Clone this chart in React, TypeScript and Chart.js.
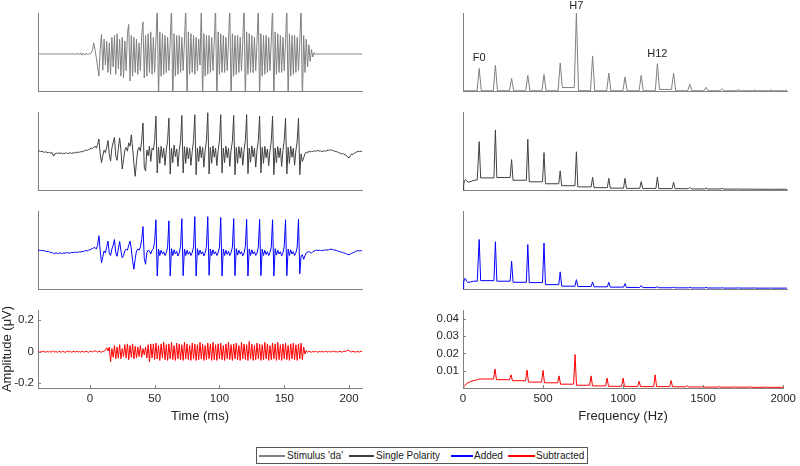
import React, { useEffect, useRef } from "react";
import { Chart, registerables } from "chart.js";

Chart.register(...registerables);

// ---------------- data ----------------
// Waveforms are sampled every waveStepMs starting at waveStartMs (-40 .. 210 ms)
const waveStartMs = -40;
const waveStepMs = 1;

const stimulusWave = [
  0, 0, 0, 0, 0, 0, 0, 0, 0, 0,
  0, 0, 0, 0, 0, 0, 0, 0, 0, 0,
  0, 0, 0, 0, 0, 0, 0, 0, 0, 0,
  0, 0.02, -0.02, 0.03, -0.03, 0.02, -0.03, 0.02, -0.01, 0,
  0, 0.02, 0.1, 0.3, 0.12, -0.1, -0.35, -0.6, 0.15, 0.53,
  -0.44, 0.4, -0.3, 0.35, -0.5, 0.3, -0.55, 0.45, -0.35, 0.5,
  -0.55, 0.55, -0.4, 0.4, -0.6, 0.45, -0.65, 0.35, -0.45, 0.55,
  0.8, -0.73, 0.5, -0.6, 0.45, -0.5, 0.4, -0.55, 0.3, -0.45,
  0.5, 0.87, -0.65, 0.5, -0.6, 0.55, -0.5, 0.6, -0.55, 0.45,
  -0.5, 0.35, 1.3, -1.3, 0.6, -0.6, 0.55, -0.55, 0.5, -0.5,
  0.45, -0.45, 0.35, 1.3, -1.3, 0.55, -0.6, 0.5, -0.55, 0.5,
  -0.5, 0.45, -0.45, 0.35, 1.3, -1.3, 0.6, -0.55, 0.55, -0.5,
  0.5, -0.55, 0.45, -0.45, 0.4, -0.3, 1.3, -1.3, 0.55, -0.6,
  0.5, -0.55, 0.5, -0.5, 0.45, -0.45, 0.35, 1.3, -1.3, 0.6,
  -0.55, 0.55, -0.5, 0.5, -0.5, 0.45, -0.45, 0.35, 1.3, -1.3,
  0.55, -0.6, 0.5, -0.55, 0.5, -0.5, 0.45, -0.45, 0.35, 1.3,
  -1.3, 0.6, -0.55, 0.55, -0.5, 0.5, -0.5, 0.45, -0.45, 0.35,
  1.3, -1.3, 0.55, -0.6, 0.5, -0.55, 0.5, -0.5, 0.45, -0.45,
  0.35, 1.3, -1.3, 0.6, -0.55, 0.55, -0.5, 0.5, -0.5, 0.45,
  -0.45, 0.35, 1.3, -1.3, 0.55, -0.6, 0.5, -0.55, 0.5, -0.5,
  0.45, -0.45, 0.35, 1.3, -1.3, 0.5, -0.5, 0.4, -0.35, 0.25,
  -0.2, 0.12, -0.08, 0.04, -0.02, 0, 0, 0, 0, 0,
  0, 0, 0, 0, 0, 0, 0, 0, 0, 0,
  0, 0, 0, 0, 0, 0, 0, 0, 0, 0,
  0, 0, 0, 0, 0, 0, 0, 0, 0, 0,
  0,
];

const singlePolarityWave = [
  0.02, 0.03, 0.01, 0.02, 0.0, -0.01, 0.01, -0.02, -0.01, -0.02,
  -0.03, -0.02, -0.11, -0.05, -0.03, -0.04, -0.02, -0.04, -0.03, -0.05,
  -0.03, -0.04, -0.02, -0.05, -0.03, -0.02, -0.04, -0.02, -0.03, -0.01,
  -0.02, 0.0, -0.01, 0.01, 0.0, 0.02, 0.03, 0.05, 0.04, 0.06,
  0.07, 0.1, 0.09, 0.12, 0.15, 0.1, 0.2, 0.34, -0.05, -0.28,
  -0.1, 0.05, -0.02, 0.12, 0.3, -0.05, -0.24, 0.1, 0.25, 0.38,
  -0.1, -0.22, 0.1, 0.37, 0.05, -0.45, -0.2, 0.05, 0.12, 0.02,
  0.24, 0.15, 0.45, 0.1, -0.3, -0.64, -0.25, 0.05, 0.12, 0.02,
  0.3, 0.76, -0.4, -0.5, 0.05, -0.1, 0.15, -0.25, 0.1, 0.05,
  0.3, 0.94, -0.55, 0.12, -0.3, 0.15, -0.15, 0.1, -0.35, 0.05,
  0.3, 0.89, -0.58, 0.1, -0.28, 0.18, -0.12, 0.08, -0.38, 0.05,
  0.28, 0.96, -0.55, 0.14, -0.3, 0.12, -0.18, 0.1, -0.35, 0.02,
  0.3, 0.98, -0.6, 0.1, -0.25, 0.15, -0.15, 0.12, -0.4, 0.05,
  0.3, 1.03, -0.58, 0.12, -0.3, 0.16, -0.14, 0.1, -0.36, 0.04,
  0.3, 0.98, -0.55, 0.1, -0.28, 0.15, -0.15, 0.1, -0.38, 0.05,
  0.28, 0.96, -0.6, 0.12, -0.3, 0.14, -0.16, 0.12, -0.35, 0.04,
  0.3, 0.98, -0.57, 0.1, -0.27, 0.16, -0.13, 0.1, -0.4, 0.05,
  0.3, 0.94, -0.55, 0.12, -0.3, 0.15, -0.15, 0.08, -0.36, 0.03,
  0.28, 0.94, -0.6, 0.1, -0.28, 0.14, -0.15, 0.1, -0.38, 0.05,
  0.3, 0.89, -0.58, 0.12, -0.3, 0.15, -0.14, 0.1, -0.35, 0.04,
  0.28, 0.89, -0.6, -0.05, -0.25, -0.15, -0.05, 0.0, -0.03, 0.02,
  0.0, 0.02, 0.01, 0.03, 0.02, 0.03, 0.04, 0.02, 0.03, 0.01,
  0.02, 0.03, 0.02, 0.04, 0.05, 0.04, 0.06, 0.04, 0.03, 0.02,
  0.01, 0.0, -0.02, -0.03, -0.05, -0.04, -0.06, -0.08, -0.1, -0.13,
  -0.16, -0.1, -0.05, -0.07, -0.03, -0.02, 0.0, 0.02, 0.01, 0.02,
  0.01,
];

const addedWave = [
  0.02, 0.02, 0.01, 0.02, 0.0, 0.01, -0.01, -0.02, -0.01, -0.03,
  -0.05, -0.04, -0.07, -0.06, -0.05, -0.07, -0.06, -0.05, -0.07, -0.06,
  -0.05, -0.06, -0.05, -0.04, -0.06, -0.05, -0.04, -0.05, -0.03, -0.04,
  -0.03, -0.04, -0.02, -0.03, -0.01, -0.02, 0.0, 0.01, 0.0, 0.02,
  0.03, 0.05, 0.06, 0.08, 0.09, 0.05, 0.15, 0.4, 0.0, -0.31,
  -0.15, 0.0, -0.05, 0.1, 0.26, -0.05, -0.12, 0.05, 0.15, 0.3,
  -0.05, -0.14, 0.05, 0.25, 0.0, -0.18, -0.12, 0.0, 0.05, 0.02,
  0.15, 0.26, 0.05, -0.25, -0.48, -0.2, 0.0, 0.05, 0.02, 0.1,
  0.3, 0.64, -0.2, -0.35, -0.05, 0.02, 0.0, -0.08, 0.02, 0.05,
  0.25, 0.82, -0.66, 0.05, -0.12, 0.02, -0.08, -0.02, -0.12, -0.05,
  0.1, 0.79, -0.66, 0.06, -0.12, 0.03, -0.08, -0.01, -0.13, -0.05,
  0.12, 0.85, -0.65, 0.05, -0.12, 0.02, -0.09, -0.02, -0.12, -0.04,
  0.1, 0.9, -0.66, 0.06, -0.11, 0.02, -0.08, -0.02, -0.13, -0.05,
  0.12, 0.9, -0.64, 0.05, -0.12, 0.03, -0.08, -0.02, -0.12, -0.05,
  0.1, 0.88, -0.66, 0.05, -0.12, 0.02, -0.09, -0.01, -0.12, -0.04,
  0.1, 0.85, -0.65, 0.06, -0.11, 0.02, -0.08, -0.02, -0.13, -0.05,
  0.12, 0.83, -0.66, 0.05, -0.12, 0.03, -0.08, -0.02, -0.12, -0.05,
  0.1, 0.83, -0.65, 0.05, -0.12, 0.02, -0.09, -0.02, -0.12, -0.04,
  0.1, 0.82, -0.66, 0.06, -0.11, 0.02, -0.08, -0.02, -0.13, -0.05,
  0.12, 0.82, -0.65, 0.05, -0.12, 0.03, -0.08, -0.02, -0.12, -0.05,
  0.1, 0.83, -0.6, -0.13, -0.1, -0.22, -0.12, -0.05, -0.03, -0.02,
  -0.04, -0.06, -0.02, 0.0, 0.01, 0.02, 0.01, 0.02, 0.01, 0.02,
  0.01, 0.02, 0.03, 0.02, 0.03, 0.04, 0.05, 0.04, 0.03, 0.02,
  0.02, 0.0, -0.01, -0.02, -0.03, -0.04, -0.05, -0.06, -0.08, -0.09,
  -0.1, -0.08, -0.06, -0.05, -0.03, -0.01, 0.0, 0.01, 0.0, 0.01,
  0.0,
];

const subtractedWave = [
  0.002, -0.003, 0.003, -0.002, 0.004, 0.0, -0.003, 0.002, -0.002, 0.003,
  -0.003, 0.002, 0.005, -0.002, 0.001, -0.004, 0.002, 0.0, -0.003, 0.003,
  0.0, -0.004, 0.002, 0.004, -0.002, 0.003, -0.003, 0.001, 0.003, -0.002,
  0.004, -0.002, 0.001, -0.003, 0.003, 0.0, -0.002, 0.003, 0.0, -0.004,
  0.002, 0.004, -0.002, 0.003, 0.006, 0.002, -0.003, 0.004, 0.0, -0.003,
  0.002, 0.005, 0.01, 0.025, 0.005, 0.03, -0.063, 0.02, -0.035, 0.04,
  -0.045, 0.03, -0.04, 0.045, -0.045, 0.02, -0.03, 0.045, -0.04, 0.05,
  -0.05, 0.04, -0.035, 0.05, -0.045, 0.035, -0.04, 0.03, -0.03, 0.04,
  -0.035, 0.02, -0.02, 0.03, -0.04, 0.045, -0.065, 0.05, -0.04, 0.05,
  -0.05, 0.055, -0.045, 0.04, -0.055, 0.05, -0.04, 0.06, -0.05, 0.045,
  -0.055, 0.05, -0.045, 0.06, -0.05, 0.04, -0.055, 0.055, -0.045, 0.05,
  -0.05, 0.045, -0.055, 0.06, -0.045, 0.05, -0.05, 0.04, -0.055, 0.055,
  -0.045, 0.05, -0.055, 0.045, -0.05, 0.06, -0.045, 0.05, -0.055, 0.04,
  -0.05, 0.055, -0.045, 0.05, -0.055, 0.06, -0.05, 0.045, -0.055, 0.05,
  -0.045, 0.055, -0.05, 0.04, -0.055, 0.05, -0.045, 0.06, -0.05, 0.045,
  -0.055, 0.05, -0.045, 0.055, -0.05, 0.04, -0.055, 0.06, -0.045, 0.05,
  -0.05, 0.045, -0.055, 0.065, -0.045, 0.05, -0.055, 0.04, -0.05, 0.055,
  -0.045, 0.05, -0.055, 0.045, -0.05, 0.06, -0.045, 0.05, -0.055, 0.04,
  -0.05, 0.055, -0.045, 0.05, -0.055, 0.06, -0.05, 0.045, -0.055, 0.05,
  -0.045, 0.055, -0.05, 0.04, -0.055, 0.05, -0.045, 0.055, -0.05, 0.045,
  -0.055, 0.05, -0.045, 0.055, -0.05, 0.03, -0.015, 0.008, -0.004, 0.003,
  0.0, -0.003, 0.002, -0.002, 0.003, 0.0, -0.003, 0.002, -0.001, 0.003,
  -0.002, 0.001, 0.004, -0.002, 0.0, 0.003, -0.003, 0.002, 0.004, -0.001,
  0.002, -0.003, 0.001, 0.003, -0.002, 0.0, 0.004, 0.002, 0.006, 0.01,
  0.006, 0.002, -0.002, 0.003, 0.0, -0.003, 0.002, 0.0, -0.002, 0.003,
  0.001,
];

// Spectra: harmonic peaks (Hz) with the peak amplitude and the floor level right after each peak
const harmonicHz = [100, 200, 300, 400, 500, 600, 700, 800, 900, 1000, 1100, 1200, 1300, 1400, 1500, 1600, 1700, 1800, 1900, 2000];

const stimulusLowHz = [0, 80];
const stimulusLowAmp = [0.003, 0.003];
const stimulusPeaks = [0.29, 0.33, 0.16, 0.2, 0.21, 0.36, 1.0, 0.45, 0.23, 0.18, 0.2, 0.35, 0.23, 0.086, 0.047, 0.03, 0.017, 0.013, 0.013, 0.01];
const stimulusFloor = [0.003, 0.003, 0.003, 0.003, 0.003, 0.045, 0.004, 0.003, 0.003, 0.003, 0.003, 0.02, 0.003, 0.003, 0.003, 0.003, 0.003, 0.003, 0.003, 0.003];

const singleLowHz = [0, 4, 9, 16, 24, 34, 50, 70, 88];
const singleLowAmp = [0, 0.06, 0.12, 0.135, 0.11, 0.1, 0.11, 0.125, 0.13];
const singlePeaks = [0.62, 0.77, 0.39, 0.65, 0.48, 0.245, 0.49, 0.163, 0.15, 0.15, 0.107, 0.167, 0.099, 0.034, 0.025, 0.021, 0.013, 0.01, 0.009, 0.008];
const singleFloor = [0.155, 0.16, 0.125, 0.105, 0.08, 0.055, 0.04, 0.03, 0.024, 0.021, 0.02, 0.018, 0.017, 0.014, 0.013, 0.012, 0.011, 0.01, 0.01, 0.01];

const addedLowHz = [0, 4, 9, 15, 22, 30, 45, 65, 88];
const addedLowAmp = [0, 0.08, 0.13, 0.135, 0.1, 0.085, 0.09, 0.1, 0.1];
const addedPeaks = [0.635, 0.605, 0.356, 0.57, 0.59, 0.22, 0.12, 0.09, 0.086, 0.069, 0.043, 0.03, 0.024, 0.022, 0.021, 0.016, 0.015, 0.014, 0.013, 0.012];
const addedFloor = [0.107, 0.1, 0.086, 0.082, 0.056, 0.036, 0.032, 0.028, 0.024, 0.02, 0.018, 0.016, 0.015, 0.014, 0.013, 0.012, 0.012, 0.011, 0.011, 0.011];

const subtractedLowHz = [0, 5, 12, 25, 40, 60, 80, 90];
const subtractedLowAmp = [0, 0.0008, 0.0016, 0.0026, 0.0034, 0.0041, 0.0046, 0.0047];
const subtractedPeaks = [0.0052, 0.011, 0.0076, 0.0104, 0.0102, 0.007, 0.0193, 0.007, 0.0057, 0.0057, 0.0039, 0.0076, 0.0043, 0.0014, 0.0009, 0.0008, 0.0006, 0.0006, 0.0006, 0.0005];
const subtractedFloor = [0.0052, 0.0048, 0.0042, 0.0034, 0.003, 0.0022, 0.0016, 0.0012, 0.001, 0.0009, 0.0008, 0.0008, 0.0007, 0.0006, 0.0005, 0.0005, 0.0005, 0.0004, 0.0004, 0.0004];

// Tick labels
const timeTicks = [0, 50, 100, 150, 200];
const amplitudeTicks = [-0.2, 0, 0.2];
const freqTicks = [0, 500, 1000, 1500, 2000];
const spectrumTicks = [0.01, 0.02, 0.03, 0.04];

// Annotated harmonics on the stimulus spectrum
const peakLabelText = ["F0", "H7", "H12"];
const peakLabelHz = [100, 700, 1200];

// Series names
const seriesNames = ["Stimulus 'da'", "Single Polarity", "Added", "Subtracted"];

// ---------------- styling ----------------
const FONT = "'Liberation Sans', Arial, Helvetica, sans-serif";
const TEXT = "#262626";
const AXIS = "#808080";
const COLORS = ["#808080", "#404040", "#0000ff", "#ff0000"];

const W = 800;
const H = 466;
const COLS = [
  { l: 38, r: 362 },
  { l: 463, r: 787 },
];
const ROWS = [
  { t: 13, b: 91 },
  { t: 112, b: 190 },
  { t: 211, b: 289 },
  { t: 310, b: 388 },
];

type Pt = { x: number; y: number };

function wavePoints(values: number[]): Pt[] {
  return values.map((y, i) => ({ x: waveStartMs + i * waveStepMs, y }));
}

function spectrumPoints(lowHz: number[], lowAmp: number[], peaks: number[], floor: number[], halfWidth: number): Pt[] {
  const pts: Pt[] = lowHz.map((x, i) => ({ x, y: lowAmp[i] }));
  let prev = lowAmp[lowAmp.length - 1];
  harmonicHz.forEach((f, i) => {
    pts.push({ x: f - halfWidth, y: prev });
    pts.push({ x: f, y: peaks[i] });
    pts.push({ x: f + halfWidth, y: floor[i] });
    prev = floor[i];
  });
  return pts;
}

const inwardTicks = {
  id: "inwardTicks",
  afterDraw(chart: any, _args: any, opts: any) {
    if (!opts || !opts.show) return;
    const { ctx, chartArea, scales } = chart;
    ctx.save();
    ctx.strokeStyle = AXIS;
    ctx.lineWidth = 1;
    for (const t of scales.x.ticks) {
      const px = Math.round(scales.x.getPixelForValue(t.value)) + 0.5;
      ctx.beginPath();
      ctx.moveTo(px, chartArea.bottom);
      ctx.lineTo(px, chartArea.bottom - 3);
      ctx.stroke();
    }
    for (const t of scales.y.ticks) {
      const py = Math.round(scales.y.getPixelForValue(t.value)) + 0.5;
      ctx.beginPath();
      ctx.moveTo(chartArea.left, py);
      ctx.lineTo(chartArea.left + 3, py);
      ctx.stroke();
    }
    ctx.restore();
  },
};

const peakLabels = {
  id: "peakLabels",
  afterDraw(chart: any, _args: any, opts: any) {
    if (!opts || !opts.texts) return;
    const { ctx, scales } = chart;
    ctx.save();
    ctx.fillStyle = TEXT;
    ctx.font = `11px ${FONT}`;
    ctx.textAlign = "center";
    ctx.textBaseline = "middle";
    opts.texts.forEach((txt: string, i: number) => {
      const x = scales.x.getPixelForValue(opts.hz[i]);
      const y = Math.max(scales.y.getPixelForValue(opts.amp[i]) - 10, 6);
      ctx.fillText(txt, x, y);
    });
    ctx.restore();
  },
};

type Panel = {
  col: number;
  row: number;
  points: Pt[];
  color: string;
  xMin: number;
  xMax: number;
  yMin: number;
  yMax: number;
  xTicks?: number[];
  yTicks?: number[];
  xTitle?: string;
  yTitle?: string;
  yAxisWidth?: number;
  labels?: { texts: string[]; hz: number[]; amp: number[] };
};

const panels: Panel[] = [
  { col: 0, row: 0, points: wavePoints(stimulusWave), color: COLORS[0], xMin: -40, xMax: 210, yMin: -1, yMax: 1.108 },
  { col: 0, row: 1, points: wavePoints(singlePolarityWave), color: COLORS[1], xMin: -40, xMax: 210, yMin: -1, yMax: 1.05 },
  { col: 0, row: 2, points: wavePoints(addedWave), color: COLORS[2], xMin: -40, xMax: 210, yMin: -1, yMax: 1.05 },
  {
    col: 0, row: 3, points: wavePoints(subtractedWave), color: COLORS[3], xMin: -40, xMax: 210, yMin: -0.23, yMax: 0.265,
    xTicks: timeTicks, yTicks: amplitudeTicks, xTitle: "Time (ms)", yTitle: "Amplitude (μV)", yAxisWidth: 38,
  },
  {
    col: 1, row: 0, points: spectrumPoints(stimulusLowHz, stimulusLowAmp, stimulusPeaks, stimulusFloor, 13), color: COLORS[0],
    xMin: 0, xMax: 2000, yMin: 0, yMax: 1,
    labels: { texts: peakLabelText, hz: peakLabelHz, amp: peakLabelHz.map((f) => stimulusPeaks[harmonicHz.indexOf(f)]) },
  },
  { col: 1, row: 1, points: spectrumPoints(singleLowHz, singleLowAmp, singlePeaks, singleFloor, 9), color: COLORS[1], xMin: 0, xMax: 2000, yMin: 0, yMax: 1 },
  { col: 1, row: 2, points: spectrumPoints(addedLowHz, addedLowAmp, addedPeaks, addedFloor, 9), color: COLORS[2], xMin: 0, xMax: 2000, yMin: 0, yMax: 1 },
  {
    col: 1, row: 3, points: spectrumPoints(subtractedLowHz, subtractedLowAmp, subtractedPeaks, subtractedFloor, 9), color: COLORS[3],
    xMin: 0, xMax: 2000, yMin: 0, yMax: 0.045,
    xTicks: freqTicks, yTicks: spectrumTicks, xTitle: "Frequency (Hz)", yAxisWidth: 40,
  },
];

function buildConfig(p: Panel): any {
  const c = COLS[p.col];
  const r = ROWS[p.row];
  const hasTicks = !!p.xTicks;
  const xH = hasTicks ? 36 : 0;
  const yW = p.yAxisWidth || 0;
  const tickFont = { family: FONT, size: 11.5 };
  const titleFont = { family: FONT, size: 13, lineHeight: 1.2 };
  return {
    type: "line",
    data: {
      datasets: [
        {
          data: p.points,
          borderColor: p.color,
          borderWidth: 1,
          pointRadius: 0,
          tension: 0,
          fill: false,
        },
      ],
    },
    options: {
      responsive: false,
      animation: false,
      events: [],
      parsing: false,
      layout: {
        autoPadding: false,
        padding: { left: c.l - yW, top: r.t, right: W - c.r, bottom: H - r.b - xH },
      },
      plugins: {
        legend: { display: false },
        tooltip: { enabled: false },
        inwardTicks: { show: hasTicks },
        peakLabels: p.labels || {},
      },
      scales: {
        x: {
          type: "linear",
          position: "bottom",
          min: p.xMin,
          max: p.xMax,
          grid: { display: false, drawTicks: false },
          border: { display: true, color: AXIS, width: 1 },
          ticks: {
            display: hasTicks,
            font: tickFont,
            color: TEXT,
            padding: 4,
            maxRotation: 0,
            autoSkip: false,
            callback: (v: any) => String(v),
          },
          afterBuildTicks: hasTicks ? (s: any) => { s.ticks = p.xTicks!.map((v) => ({ value: v })); } : undefined,
          afterFit: (s: any) => { s.height = xH; },
          title: { display: !!p.xTitle, text: p.xTitle || "", font: titleFont, color: TEXT, padding: 0 },
        },
        y: {
          type: "linear",
          position: "left",
          min: p.yMin,
          max: p.yMax,
          grid: { display: false, drawTicks: false },
          border: { display: true, color: AXIS, width: 1 },
          ticks: {
            display: hasTicks,
            font: tickFont,
            color: TEXT,
            padding: 4,
            autoSkip: false,
            callback: (v: any) => String(v),
          },
          afterBuildTicks: hasTicks ? (s: any) => { s.ticks = p.yTicks!.map((v) => ({ value: v })); } : undefined,
          afterFit: (s: any) => { s.width = yW; },
          title: { display: !!p.yTitle, text: p.yTitle || "", font: titleFont, color: TEXT, padding: 0 },
        },
      },
    },
    plugins: [inwardTicks, peakLabels],
  };
}

// Legend layout (page pixels)
const legendBox = { left: 256, top: 447, width: 332, height: 17 };
const legendItems = [
  { lineLeft: 259, lineWidth: 26, textLeft: 287 },
  { lineLeft: 349, lineWidth: 25, textLeft: 376 },
  { lineLeft: 451, lineWidth: 22, textLeft: 474 },
  { lineLeft: 508, lineWidth: 27, textLeft: 536 },
];

export default function App() {
  const refs = useRef<(HTMLCanvasElement | null)[]>([]);

  useEffect(() => {
    const charts = panels.map((p, i) => new Chart(refs.current[i] as HTMLCanvasElement, buildConfig(p)));
    return () => charts.forEach((ch) => ch.destroy());
  }, []);

  return (
    <div style={{ position: "absolute", left: 0, top: 0, width: W, height: H, background: "#fff", overflow: "hidden" }}>
      {panels.map((_, i) => (
        <canvas
          key={i}
          ref={(el) => { refs.current[i] = el; }}
          width={W}
          height={H}
          style={{ position: "absolute", left: 0, top: 0, width: W, height: H }}
        />
      ))}
      <div
        style={{
          position: "absolute",
          left: legendBox.left,
          top: legendBox.top,
          width: legendBox.width,
          height: legendBox.height,
          border: "1px solid #555",
          boxSizing: "border-box",
          background: "#fff",
        }}
      />
      {legendItems.map((it, i) => (
        <React.Fragment key={i}>
          <div
            style={{
              position: "absolute",
              left: it.lineLeft,
              top: legendBox.top + legendBox.height / 2 - 1,
              width: it.lineWidth,
              height: 2,
              background: COLORS[i],
            }}
          />
          <div
            style={{
              position: "absolute",
              left: it.textLeft,
              top: legendBox.top,
              height: legendBox.height,
              lineHeight: `${legendBox.height}px`,
              fontFamily: FONT,
              fontSize: 10,
              color: "#1a1a1a",
              whiteSpace: "nowrap",
            }}
          >
            {seriesNames[i]}
          </div>
        </React.Fragment>
      ))}
    </div>
  );
}
